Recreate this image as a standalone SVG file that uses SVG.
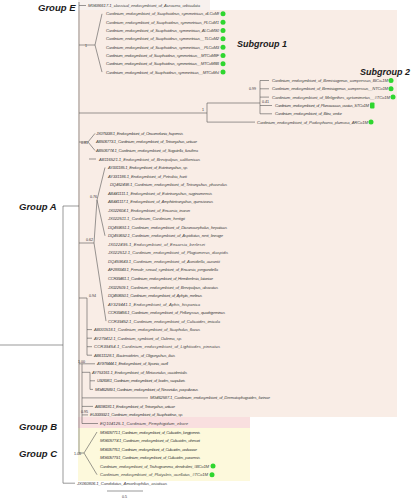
<svg xmlns="http://www.w3.org/2000/svg" width="419" height="500" viewBox="0 0 419 500">
<style>
.t{font-family:"Liberation Sans",Arial,sans-serif;font-size:4.2px;fill:#444;font-style:italic}
.s{font-family:"Liberation Sans",Arial,sans-serif;font-size:3.6px;fill:#333}
.g{font-family:"Liberation Sans",Arial,sans-serif;font-size:9.5px;font-weight:bold;font-style:italic;fill:#1a1a1a}
.sg{font-family:"Liberation Sans",Arial,sans-serif;font-size:9px;font-weight:bold;font-style:italic;fill:#1a1a1a}
.l{fill:none;stroke:#555;stroke-width:0.6}
.dot{fill:#2fd62f}
</style>
<rect width="419" height="500" fill="#ffffff"/>
<g id="regions">
<rect x="78" y="0" width="132" height="10" fill="#f7f1ee"/>
<rect x="78" y="10" width="319" height="407" fill="#f9ede6"/>
<rect x="78" y="417" width="172" height="11" fill="#f9dfdf"/>
<rect x="78" y="428" width="172" height="53" fill="#fdf9dc"/>
</g>
<g id="labels">
<text class="g" x="38" y="10.5">Group E</text>
<text class="g" x="19" y="209.5">Group A</text>
<text class="g" x="19" y="430">Group B</text>
<text class="g" x="19" y="456.5">Group C</text>
<text class="sg" x="237" y="46.5">Subgroup 1</text>
<text class="sg" x="360" y="74.5">Subgroup 2</text>
</g>
<g id="connectors">
<path class="l" d="M0,345H63M63,206V483.2M63,206H79M63,483.2H75"/>
<path class="l" d="M79,2V453M79,5.5H86"/>
<path class="l" d="M79,45H95M95,45L102,13.8M95,45L102,72.1"/>
<path class="l" d="M79,113H207M207,103V122.1M207,103H260M207,122.1H255M260,80.5V113.8M260,80.5H269M260,88.8H269M260,97.1H269M260,105.5H272M260,113.8H272"/>
<path class="l" d="M79,142H88M88,142L95,133.4M88,142L95,150.5M89,159H96"/>
<path class="l" d="M79,243H94M94,243L97,200M94,243L106,321.1M97,200L105,167.5M97,200L105,235.8"/>
<path class="l" d="M79,298H87M87,298V355.2M87,329.6H92M87,338.2H92M87,346.7H92M87,355.2H92"/>
<path class="l" d="M79,363.8H82M82,363.8V423.5M82,363.8H95M82,372.3H90M90,372.3V389.4M90,380.8H95M90,389.4H93M82,397.9H148M82,406.4H93M82,414.9H88M82,423.5H98"/>
<path class="l" d="M79,453H84M84,453L97,432M84,453L97,474.7"/>
<path class="l" d="M107,491H143"/>
</g>
<g id="support">
<text class="s" x="85" y="46.5">1</text>
<text class="s" x="249" y="90">0.99</text>
<text class="s" x="262" y="103">0.41</text>
<text class="s" x="202" y="111">1</text>
<text class="s" x="81" y="143.5">0.81</text>
<text class="s" x="90" y="198">0.76</text>
<text class="s" x="86" y="241">0.62</text>
<text class="s" x="89" y="296.5">0.94</text>
<text class="s" x="78" y="362.5">1.00</text>
<text class="s" x="81" y="412.5">0.95</text>
<text class="s" x="74" y="455">1.00</text>
<text class="s" x="122" y="498">0.5</text>
</g>
<g id="tip00"><text class="t" x="88" y="7" textLength="112">MG686617.1_classical_endosymbiont_of_Acrocera_orbiculata</text></g>
<g id="tip01"><text class="t" x="106" y="15.3" textLength="113">Cardinium_endosymbiont_of_Scaphoideus_symmetricus_dLCoMf</text><circle class="dot" cx="223" cy="13.8" r="2.5"/></g>
<g id="tip02"><text class="t" x="106" y="23.7" textLength="113">Cardinium_endosymbiont_of_Scaphoideus_symmetricus_PLCoM1</text><circle class="dot" cx="223" cy="22.2" r="2.5"/></g>
<g id="tip03"><text class="t" x="106" y="32" textLength="113">Cardinium_endosymbiont_of_Scaphoideus_symmetricus_ALCoM90</text><circle class="dot" cx="223" cy="30.5" r="2.5"/></g>
<g id="tip04"><text class="t" x="106" y="40.3" textLength="113">Cardinium_endosymbiont_of_Scaphoideus_symmetricus__TLCoM2</text><circle class="dot" cx="223" cy="38.8" r="2.5"/></g>
<g id="tip05"><text class="t" x="106" y="48.7" textLength="113">Cardinium_endosymbiont_of_Scaphoideus_symmetricus__PLCoM3</text><circle class="dot" cx="223" cy="47.2" r="2.5"/></g>
<g id="tip06"><text class="t" x="106" y="57" textLength="113">Cardinium_endosymbiont_of_Scaphoideus_symmetricus__MTCoM8F</text><circle class="dot" cx="223" cy="55.5" r="2.5"/></g>
<g id="tip07"><text class="t" x="106" y="65.3" textLength="113">Cardinium_endosymbiont_of_Scaphoideus_symmetricus__MTCoM8B</text><circle class="dot" cx="223" cy="63.8" r="2.5"/></g>
<g id="tip08"><text class="t" x="106" y="73.6" textLength="113">Cardinium_endosymbiont_of_Scaphoideus_symmetricus__MTCoMsl</text><circle class="dot" cx="223" cy="72.1" r="2.5"/></g>
<g id="tip09"><text class="t" x="272" y="82" textLength="116">Cardinium_endosymbiont_of_Bemisiagenus_compressus_BiCo-1M</text><circle class="dot" cx="391" cy="80.5" r="2.5"/></g>
<g id="tip10"><text class="t" x="272" y="90.3" textLength="116">Cardinium_endosymbiont_of_Bemisiagenus_compressus__NTCo1M</text><circle class="dot" cx="391" cy="88.8" r="2.5"/></g>
<g id="tip11"><text class="t" x="272" y="98.6" textLength="118">Cardinium_endosymbiont_of_Meligethes_cyrtomimetus__#TCo1M</text><circle class="dot" cx="393" cy="97.1" r="2.5"/></g>
<g id="tip12"><text class="t" x="275" y="107" textLength="94">Cardinium_endosymbiont_of_Planococcus_ovatus_STCo1M</text><rect class="dot" x="370" y="102.5" width="4.5" height="6" rx="1"/></g>
<g id="tip13"><text class="t" x="275" y="115.3" textLength="67">Cardinium_endosymbiont_of_Bitru_vedor</text></g>
<g id="tip14"><text class="t" x="257" y="123.6" textLength="111">Cardinium_endosymbiont_of_Podosphaera_plumosa_ARCo1M</text><circle class="dot" cx="371" cy="122.1" r="2.5"/></g>
<g id="tip15"><text class="t" x="96" y="134.9" textLength="87">JX075338.1_Endosymbiont_of_Oncomelania_hupensis</text></g>
<g id="tip16"><text class="t" x="96" y="143.4" textLength="101">AB506773.1_Cardinium_endosymbiont_of_Tetranychus_urticae</text></g>
<g id="tip17"><text class="t" x="96" y="152" textLength="102">AB506774.1_Cardinium_endosymbiont_of_Sogatella_furcifera</text></g>
<g id="tip18"><text class="t" x="99" y="160.5" textLength="101">AB116521.1_Endosymbiont_of_Brevipalpus_californicus</text></g>
<g id="tip19"><text class="t" x="108" y="169" textLength="80">AY331185.1_Endosymbiont_of_Eotetranychus_sp.</text></g>
<g id="tip20"><text class="t" x="108" y="177.6" textLength="79">AY331186.1_Endosymbiont_of_Petrobia_harti</text></g>
<g id="tip21"><text class="t" x="110" y="186.1" textLength="117">DQ462498.1_Cardinium_endosymbiont_of_Tetranychus_phaseolus</text></g>
<g id="tip22"><text class="t" x="108" y="194.6" textLength="104">AB441111.1_Endosymbiont_of_Eotetranychus_suginamensis</text></g>
<g id="tip23"><text class="t" x="108" y="203.2" textLength="105">AB441117.1_Endosymbiont_of_Amphitetranychus_quercivorus</text></g>
<g id="tip24"><text class="t" x="108" y="211.7" textLength="82">JX022604.1_Endosymbiont_of_Encarsia_inaron</text></g>
<g id="tip25"><text class="t" x="108" y="220.2" textLength="77">JX022511.1_Cardinium_Cardinium_hertigii</text></g>
<g id="tip26"><text class="t" x="108" y="228.8" textLength="119">DQ459651.1_Cardinium_endosymbiont_of_Dicranocephalus_hepaticus</text></g>
<g id="tip27"><text class="t" x="108" y="237.3" textLength="115">DQ459652.1_Cardinium_endosymbiont_of_Aspidiotus_nerii_lineage</text></g>
<g id="tip28"><text class="t" x="108" y="245.8" textLength="97">JX022495.1_Endosymbiont_of_Encarsia_berlesei</text></g>
<g id="tip29"><text class="t" x="108" y="254.4" textLength="120">JX022512.1_Cardinium_endosymbiont_of_Plagiomerus_diaspidis</text></g>
<g id="tip30"><text class="t" x="108" y="262.9" textLength="112">DQ459643.1_Cardinium_endosymbiont_of_Aonidiella_aurantii</text></g>
<g id="tip31"><text class="t" x="108" y="271.4" textLength="110">AF288343.1_Female_sexual_symbiont_of_Encarsia_pergandiella</text></g>
<g id="tip32"><text class="t" x="108" y="279.9" textLength="105">CCR39461.1_Cardinium_endosymbiont_of_Hemiberlesia_lataniae</text></g>
<g id="tip33"><text class="t" x="108" y="288.5" textLength="110">JX022509.1_Cardinium_endosymbiont_of_Brevipalpus_obovatus</text></g>
<g id="tip34"><text class="t" x="108" y="297" textLength="94">DQ459650.1_Cardinium_endosymbiont_of_Aphytis_melinus</text></g>
<g id="tip35"><text class="t" x="108" y="305.5" textLength="92">AY329441.1_Endosymbiont_of_Aphis_hispanica</text></g>
<g id="tip36"><text class="t" x="108" y="314.1" textLength="117">CCR39456.1_Cardinium_endosymbiont_of_Pellonyssus_quadrigeminus</text></g>
<g id="tip37"><text class="t" x="108" y="322.6" textLength="112">CCR39452.1_Cardinium_endosymbiont_of_Culicoides_imicola</text></g>
<g id="tip38"><text class="t" x="94" y="331.1" textLength="106">AB001518.1_Cardinium_endosymbiont_of_Scapholus_flavus</text></g>
<g id="tip39"><text class="t" x="94" y="339.7" textLength="88">AY279412.1_Cardinium_symbiont_of_Oulema_sp.</text></g>
<g id="tip40"><text class="t" x="94" y="348.2" textLength="126">CCR39454.1_Cardinium_endosymbiont_of_Lightiodes_pinnatus</text></g>
<g id="tip41"><text class="t" x="94" y="356.7" textLength="81">AB611128.1_Bacteroidetes_of_Oligonychus_ilicis</text></g>
<g id="tip42"><text class="t" x="97" y="365.3" textLength="71">AY978444.1_Endosymbiont_of_Sponia_ocell</text></g>
<g id="tip43"><text class="t" x="92" y="373.8" textLength="95">AY753161.1_Endosymbiont_of_Metaseiulus_occidentalis</text></g>
<g id="tip44"><text class="t" x="97" y="382.3" textLength="88">U92698.1_Cardinium_endosymbiont_of_Ixodes_scapularis</text></g>
<g id="tip45"><text class="t" x="95" y="390.9" textLength="103">MG462589.1_Cardinium_endosymbiont_of_Neoseiulus_paspalivorus</text></g>
<g id="tip46"><text class="t" x="150" y="399.4" textLength="120">MG462587.1_Cardinium_endosymbiont_of_Dermatophagoides_farinae</text></g>
<g id="tip47"><text class="t" x="95" y="407.9" textLength="80">AB096181.1_Endosymbiont_of_Tetranychus_urticae</text></g>
<g id="tip48"><text class="t" x="90" y="416.4" textLength="93">EU333932.1_Cardinium_endosymbiont_of_Scaphoideus_sp.</text></g>
<g id="tip49"><text class="t" x="100" y="425" textLength="88">EQ104125.1_Cardinium_Pemphigidum_ebore</text></g>
<g id="tip50"><text class="t" x="100" y="433.5" textLength="100">MG605771.1_Cardinium_endosymbiont_of_Culicoides_longipennis</text></g>
<g id="tip51"><text class="t" x="100" y="442" textLength="100">MG605774.1_Cardinium_endosymbiont_of_Culicoides_ohmorii</text></g>
<g id="tip52"><text class="t" x="100" y="450.6" textLength="97">MG605776.1_Cardinium_endosymbiont_of_Culicoides_arakawae</text></g>
<g id="tip53"><text class="t" x="100" y="459.1" textLength="100">MG605779.1_Cardinium_endosymbiont_of_Culicoides_paraensis</text></g>
<g id="tip54"><text class="t" x="100" y="467.6" textLength="109">Cardinium_endosymbiont_of_Trichogramma_dendrolimi_#BCo1M</text><circle class="dot" cx="213" cy="466.1" r="2.5"/></g>
<g id="tip55"><text class="t" x="100" y="476.2" textLength="108">Cardinium_endosymbiont_of_Platycleis_ocellatus_#TCo1M</text><circle class="dot" cx="212" cy="474.7" r="2.5"/></g>
<g id="tip56"><text class="t" x="77" y="484.7" textLength="90">JX060806.1_Candidatus_Amoebophilus_asiaticus</text></g>
</svg>
